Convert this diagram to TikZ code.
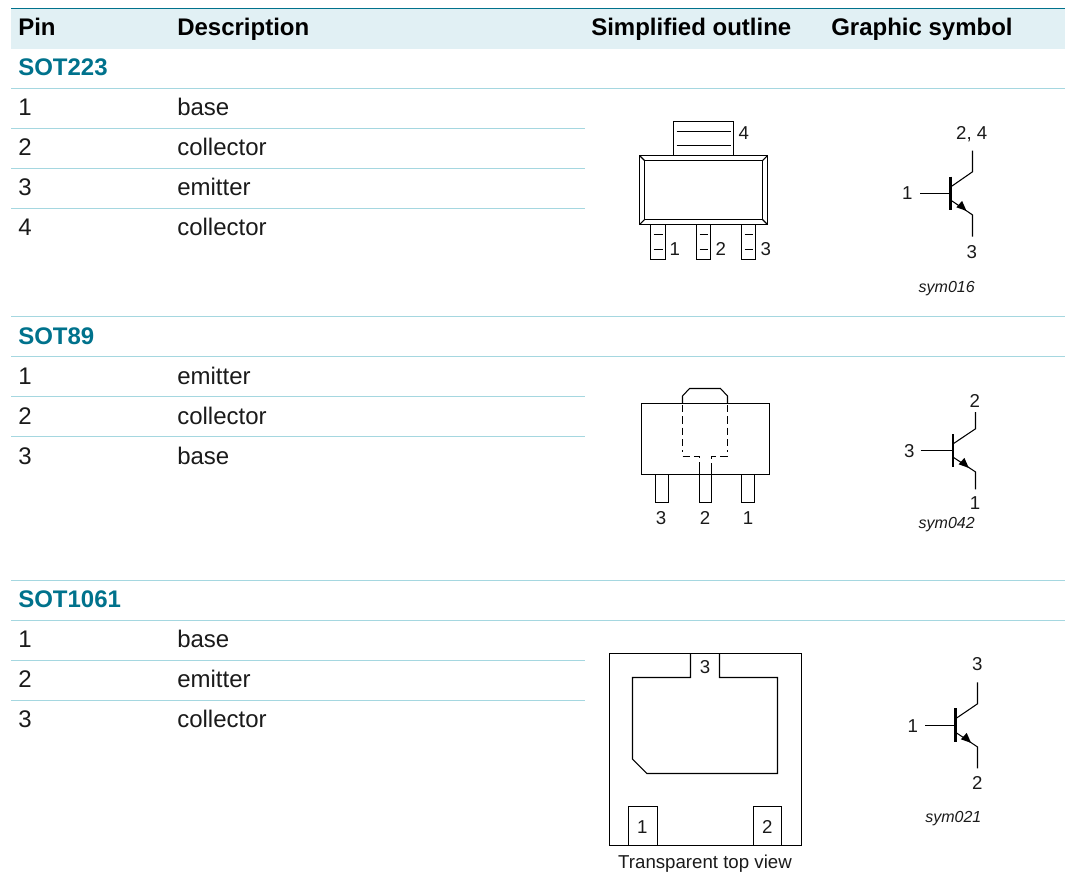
\documentclass[tikz,border=0pt]{standalone}
\usepackage{fontspec}
\setmainfont{Liberation Sans}
\definecolor{headfill}{HTML}{E1F0F4}
\definecolor{teal}{HTML}{00728C}
\definecolor{rule}{HTML}{A5D7E0}
\definecolor{ink}{HTML}{1A1A1A}
\definecolor{stroke}{HTML}{2A2A2A}
\tikzset{
  cell/.style={anchor=base west,inner sep=0pt,text=ink,font=\fontsize{18}{20}\selectfont},
  headcell/.style={cell,text=black,font=\fontsize{18}{20}\selectfont\bfseries},
  groupcell/.style={cell,text=teal,font=\fontsize{18}{20}\selectfont\bfseries},
  pinlabel/.style={inner sep=0pt,anchor=center,text height=10pt,text depth=0pt,text=ink,font=\fontsize{14}{16}\selectfont},
  codelabel/.style={inner sep=0pt,anchor=base,text=ink,font=\fontsize{12}{14}\selectfont\itshape},
  fullrule/.style={rule,line width=0.75pt},
  outline/.style={stroke,line width=0.8pt},
  hidden/.style={stroke,line width=0.8pt,dash pattern=on 5.5pt off 3pt},
  bar/.style={stroke,line width=2pt},
  lead/.style={stroke,line width=0.8pt},
}
\newcommand{\npnsym}[8]{%
  % #1 bar x, #2 bar top, #3 bar bottom, #4 base start x, #5 base y, #6 lead x, #7 lead top, #8 lead bottom
  \draw[bar] (#1,#2) -- (#1,#3);
  \draw[lead] (#4,#5) -- (#1,#5);
  \draw[lead] (#1,#5-6.6) -- (#6,#5-21.7) -- (#6,#7);
  \draw[lead] (#1,#5+6.6) -- (#6,#5+21.4) -- (#6,#8);
  \fill[stroke] (#1+15.8,#5+17.4) -- (#1+5.6,#5+13.8) -- (#1+11.4,#5+7.4) -- cycle;
}
\begin{document}
\begin{tikzpicture}[x=0.75pt,y=-0.75pt]
\useasboundingbox (0,0) rectangle (1065,890);
% header band
\fill[headfill] (11,8.5) rectangle (1065,48.5);
\draw[teal,line width=0.9pt] (11,8.5) -- (1065,8.5);
% rules
\foreach \yy in {88.5,316.5,356.5,580.5,620.5}{\draw[fullrule] (11,\yy) -- (1065,\yy);}
\foreach \yy in {128.5,168.5,208.5,396.5,436.5,660.5,700.5}{\draw[fullrule] (11,\yy) -- (585,\yy);}
% header text
\node[headcell] (hpin) at (18,35) {Pin};
\node[headcell] (hdesc) at (177,35) {Description};
\node[headcell] (houtl) at (591,35) {Simplified outline};
\node[headcell] (hsym) at (831,35) {Graphic symbol};
% SOT223
\node[groupcell] (g223) at (18,75) {SOT223};
\node[cell] (a1) at (18,115) {1}; \node[cell] (a1d) at (177,115) {base};
\node[cell] (a2) at (18,155) {2}; \node[cell] (a2d) at (177,155) {collector};
\node[cell] (a3) at (18,195) {3}; \node[cell] (a3d) at (177,195) {emitter};
\node[cell] (a4) at (18,235) {4}; \node[cell] (a4d) at (177,235) {collector};
% SOT89
\node[groupcell] (g89) at (18,344) {SOT89};
\node[cell] (b1) at (18,384) {1}; \node[cell] (b1d) at (177,384) {emitter};
\node[cell] (b2) at (18,424) {2}; \node[cell] (b2d) at (177,424) {collector};
\node[cell] (b3) at (18,464) {3}; \node[cell] (b3d) at (177,464) {base};
% SOT1061
\node[groupcell] (g1061) at (18,607) {SOT1061};
\node[cell] (c1) at (18,647) {1}; \node[cell] (c1d) at (177,647) {base};
\node[cell] (c2) at (18,687) {2}; \node[cell] (c2d) at (177,687) {emitter};
\node[cell] (c3) at (18,727) {3}; \node[cell] (c3d) at (177,727) {collector};
% SOT223 outline
\draw[outline] (673.5,155.5) -- (673.5,121.5) -- (733.5,121.5) -- (733.5,155.5);
\draw[outline] (676.5,131.5) -- (730.5,131.5) (676.5,145.5) -- (730.5,145.5);
\draw[outline] (639.5,155.5) rectangle (767.5,224.5);
\draw[outline] (644.5,160.5) rectangle (762.5,219.5);
\draw[outline] (639.5,155.5) -- (644.5,160.5) (767.5,155.5) -- (762.5,160.5) (639.5,224.5) -- (644.5,219.5) (767.5,224.5) -- (762.5,219.5);
\foreach \xa/\xb in {650.5/665.5,696.5/710.5,741.5/755.5}{
  \draw[outline] (\xa,224.5) -- (\xa,259.5) -- (\xb,259.5) -- (\xb,224.5);
  \draw[outline] (\xa+3,234.5) -- (\xb-3,234.5) (\xa+3,249.5) -- (\xb-3,249.5);
}
\node[pinlabel] (o4) at (743.7,133) {4};
\node[pinlabel] (o1) at (674.7,249) {1};
\node[pinlabel] (o2) at (720.7,249) {2};
\node[pinlabel] (o3) at (765.7,249) {3};
% SOT223 symbol
\npnsym{950.7}{176.7}{210}{920}{193.5}{972.5}{150.7}{236.7}
\node[pinlabel] (s24) at (971.7,132.7) {2, 4};
\node[pinlabel] (s1) at (907.3,193.3) {1};
\node[pinlabel] (s3) at (971.7,251.7) {3};
\node[codelabel] (code1) at (946.7,292.7) {sym016};
% SOT89 outline
\draw[outline] (641.5,403.5) rectangle (769.5,474.5);
\draw[outline] (682.5,403.5) -- (682.5,396) -- (689.5,388.5) -- (720.5,388.5) -- (727.5,396) -- (727.5,403.5);
\draw[hidden] (682.5,405) -- (682.5,452);
\draw[hidden] (727.5,405) -- (727.5,452);
\draw[hidden] (682.5,456.5) -- (699.5,456.5) -- (699.5,466);
\draw[hidden] (727.5,456.5) -- (711.5,456.5) -- (711.5,466);
\draw[outline] (699.5,466) -- (699.5,474.5) (711.5,466) -- (711.5,474.5);
\foreach \xa/\xb in {655.5/668.5,699.5/711.5,741.5/754.5}{
  \draw[outline] (\xa,474.5) -- (\xa,502.5) -- (\xb,502.5) -- (\xb,474.5);
}
\node[pinlabel] (p3) at (661,518) {3};
\node[pinlabel] (p2) at (705,518) {2};
\node[pinlabel] (p1) at (748,518) {1};
% SOT89 symbol
\npnsym{953}{434}{467.3}{920.7}{450.5}{975.5}{412}{489.3}
\node[pinlabel] (t2) at (974.7,400.7) {2};
\node[pinlabel] (t3) at (909.3,451) {3};
\node[pinlabel] (t1) at (975,502.7) {1};
\node[codelabel] (code2) at (946.7,528.7) {sym042};
% SOT1061 outline
\draw[outline] (609.5,653.5) rectangle (801.5,845.5);
\draw[outline] (690.5,653.5) -- (690.5,677.5) -- (632.5,677.5) -- (632.5,759) -- (647,773.5) -- (777.5,773.5) -- (777.5,677.5) -- (719.5,677.5) -- (719.5,653.5);
\draw[outline] (628.5,845.5) -- (628.5,806.5) -- (657.5,806.5) -- (657.5,845.5);
\draw[outline] (753.5,845.5) -- (753.5,806.5) -- (781.5,806.5) -- (781.5,845.5);
\node[pinlabel] (q3) at (705,666.7) {3};
\node[pinlabel] (q1) at (642.3,826.7) {1};
\node[pinlabel] (q2) at (767.3,826.7) {2};
\node[inner sep=0pt,anchor=base,text=ink,font=\fontsize{14}{16}\selectfont] (view) at (705,868.3) {Transparent top view};
% SOT1061 symbol
\npnsym{955.3}{708}{741.7}{925.3}{725.5}{977.5}{682.3}{768.3}
\node[pinlabel] (u3) at (977.3,664) {3};
\node[pinlabel] (u1) at (912.7,725.7) {1};
\node[pinlabel] (u2) at (977.3,783.3) {2};
\node[codelabel] (code3) at (953.3,822.7) {sym021};
\end{tikzpicture}
\end{document}
